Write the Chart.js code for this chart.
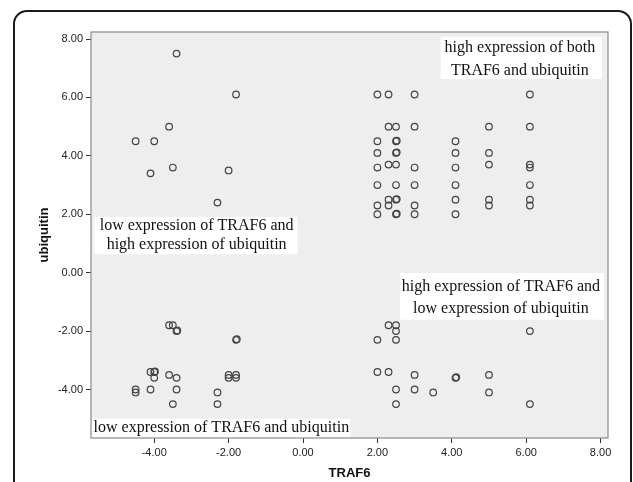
<!DOCTYPE html>
<html><head><meta charset="utf-8">
<script src="https://cdn.jsdelivr.net/npm/chart.js@4"></script>
<style>
html,body{margin:0;padding:0;background:#fff;}
#wrap{position:relative;width:633px;height:482px;overflow:hidden;}
#frame{position:absolute;left:13px;top:10px;width:615px;height:600px;border:2px solid #1a1a1a;border-radius:14px;}
canvas{position:absolute;left:0;top:0;}
</style></head><body>
<div id="wrap"><div id="frame"></div><canvas id="c" width="633" height="482"></canvas></div>
<script>
// ---- data ----
const traf6 = [
  // low TRAF6 / high ubiquitin
  -3.4,-1.8,-3.6,-4.5,-4.0,-3.5,-4.1,-2.0,-2.3,
  // high both
  2.0,2.3,3.0,6.1,
  2.3,2.5,3.0,5.0,6.1,
  2.0,2.5,2.52,4.1,
  2.0,2.5,2.52,4.1,5.0,
  2.3,2.5,5.0,6.1,
  2.0,3.0,4.1,6.1,
  2.0,2.5,3.0,4.1,6.1,
  2.3,2.5,2.52,4.1,5.0,6.1,
  2.0,2.3,3.0,5.0,6.1,
  2.0,2.5,2.52,3.0,4.1,
  // low both
  -3.6,-3.5,-3.4,-3.38,-1.8,-1.78,
  -4.1,-4.0,-3.98,-4.0,-3.6,-3.4,
  -2.0,-2.0,-1.8,-1.8,
  -4.5,-4.5,-4.1,-3.4,-2.3,-3.5,-2.3,
  // high TRAF6 / low ubiquitin
  2.3,2.5,2.5,2.0,2.5,6.1,
  2.0,2.3,3.0,4.1,4.12,5.0,
  2.5,3.0,3.5,5.0,2.5,6.1
];
const ubiquitin = [
  7.5,6.1,5.0,4.5,4.5,3.6,3.4,3.5,2.4,
  6.1,6.1,6.1,6.1,
  5.0,5.0,5.0,5.0,5.0,
  4.5,4.5,4.52,4.5,
  4.1,4.1,4.12,4.1,4.1,
  3.7,3.7,3.7,3.7,
  3.6,3.6,3.6,3.6,
  3.0,3.0,3.0,3.0,3.0,
  2.5,2.5,2.52,2.5,2.5,2.5,
  2.3,2.3,2.3,2.3,2.3,
  2.0,2.0,2.02,2.0,2.0,
  -1.8,-1.8,-2.0,-1.98,-2.3,-2.28,
  -3.4,-3.4,-3.38,-3.6,-3.5,-3.6,
  -3.5,-3.6,-3.5,-3.6,
  -4.0,-4.1,-4.0,-4.0,-4.1,-4.5,-4.5,
  -1.8,-1.8,-2.0,-2.3,-2.3,-2.0,
  -3.4,-3.4,-3.5,-3.6,-3.58,-3.5,
  -4.0,-4.0,-4.1,-4.1,-4.5,-4.5
];
const xTicks = [-4, -2, 0, 2, 4, 6, 8];
const yTicks = [-4, -2, 0, 2, 4, 6, 8];
const xTitle = 'TRAF6';
const yTitle = 'ubiquitin';
const noteTexts = [
  ['high expression of both', 'TRAF6 and ubiquitin'],
  ['low expression of TRAF6 and', 'high expression of ubiquitin'],
  ['high expression of TRAF6 and', 'low expression of ubiquitin'],
  ['low expression of TRAF6 and ubiquitin']
];

// ---- layout of the annotation boxes (in axis units) ----
const noteLayout = [
  {box:[3.70, 8.03, 8.07, 6.63], cx:5.83, lines:[7.69, 6.91], align:'center'},
  {box:[-5.62, -0.15, 1.91, 0.63], cx:-2.86, lines:[1.59, 0.96], align:'center'},
  {box:[2.61, 8.09, -0.01, -1.61], cx:5.32, lines:[-0.47, -1.24], align:'center'},
  {box:[-5.70, 1.27, -5.00, -5.66], cx:-5.63, lines:[-5.32], align:'left'}
];

const points = traf6.map((x, i) => ({x: x, y: ubiquitin[i]}));

const sans = "'Liberation Sans', Arial, sans-serif";
const serif = "'Liberation Serif', 'Times New Roman', serif";

const plotDeco = {
  id: 'plotDeco',
  beforeDatasetsDraw(chart) {
    const {ctx, chartArea: a} = chart;
    ctx.save();
    ctx.fillStyle = '#eeeeee';
    ctx.fillRect(a.left, a.top, a.right - a.left, a.bottom - a.top);
    ctx.restore();
  },
  afterDatasetsDraw(chart) {
    const {ctx, chartArea: a, scales: {x, y}} = chart;
    ctx.save();
    noteLayout.forEach((n, i) => {
      const x0 = x.getPixelForValue(n.box[0]), x1 = x.getPixelForValue(n.box[1]);
      const y0 = y.getPixelForValue(n.box[2]), y1 = y.getPixelForValue(n.box[3]);
      ctx.fillStyle = '#ffffff';
      ctx.fillRect(x0, y0, x1 - x0, y1 - y0);
      ctx.fillStyle = '#111111';
      ctx.font = '16px ' + serif;
      ctx.textAlign = n.align;
      ctx.textBaseline = 'middle';
      noteTexts[i].forEach((t, j) => {
        ctx.fillText(t, x.getPixelForValue(n.cx), y.getPixelForValue(n.lines[j]));
      });
    });
    ctx.strokeStyle = '#8a8a8a';
    ctx.lineWidth = 1.2;
    ctx.strokeRect(a.left, a.top, a.right - a.left, a.bottom - a.top);
    ctx.restore();
  }
};

new Chart(document.getElementById('c'), {
  type: 'scatter',
  data: {
    datasets: [{
      data: points,
      pointStyle: 'circle',
      pointRadius: 3.3,
      pointBorderWidth: 1.2,
      borderColor: '#444444',
      backgroundColor: 'rgba(0,0,0,0)',
      pointHoverRadius: 3.3
    }]
  },
  options: {
    responsive: false,
    animation: false,
    devicePixelRatio: 1,
    events: [],
    layout: {padding: {top: 32, right: 25, left: 0, bottom: 0}},
    plugins: {legend: {display: false}, tooltip: {enabled: false}},
    scales: {
      x: {
        type: 'linear', min: -5.7, max: 8.2,
        afterBuildTicks: s => { s.ticks = xTicks.map(v => ({value: v})); },
        afterFit: s => { s.height = 44; },
        grid: {display: true, drawOnChartArea: false, drawTicks: true, tickLength: 5, color: '#333', lineWidth: 1},
        border: {display: false},
        ticks: {padding: 3, color: '#222', font: {family: sans, size: 11}, callback: v => Number(v).toFixed(2), maxRotation: 0, autoSkip: false},
        title: {display: true, text: xTitle, color: '#111', font: {family: sans, size: 13, weight: 'bold'}, padding: {top: 0, bottom: 1}}
      },
      y: {
        type: 'linear', min: -5.66, max: 8.24,
        afterBuildTicks: s => { s.ticks = yTicks.map(v => ({value: v})); },
        afterFit: s => { s.width = 91; },
        grid: {display: true, drawOnChartArea: false, drawTicks: true, tickLength: 5, color: '#333', lineWidth: 1},
        border: {display: false},
        ticks: {padding: 3, color: '#222', font: {family: sans, size: 11}, callback: v => Number(v).toFixed(2), autoSkip: false},
        title: {display: true, text: yTitle, color: '#111', font: {family: sans, size: 13, weight: 'bold'}, padding: {top: 37, bottom: 0}}
      }
    }
  },
  plugins: [plotDeco]
});
</script>
</body></html>
